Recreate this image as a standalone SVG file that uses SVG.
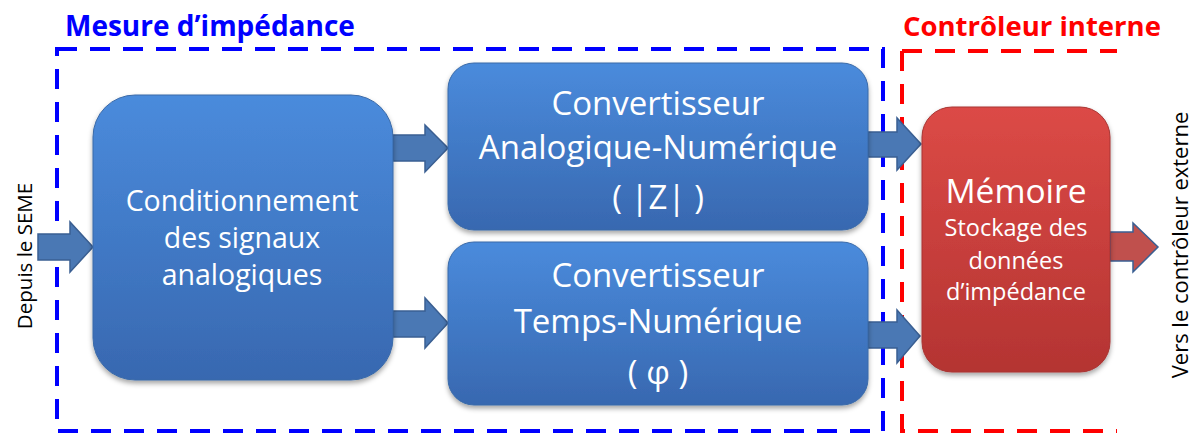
<svg xmlns="http://www.w3.org/2000/svg" width="1195" height="434" viewBox="0 0 1195 434">
<style>
.lbl{font-family:"Open Sans","Noto Sans","Liberation Sans",sans-serif;fill:#fff;text-anchor:middle}
.side{font-family:"Open Sans","Noto Sans","Liberation Sans",sans-serif;fill:#000;text-anchor:middle}
.title{font-family:"Open Sans","Noto Sans","Liberation Sans",sans-serif;font-weight:bold}
.arrow{fill:#4a78b4;stroke:#3a5f92;stroke-width:1.5}
.dashb{fill:none;stroke:#0000ff;stroke-width:4;stroke-dasharray:20 13}
.dashr{fill:none;stroke:#ff0000;stroke-width:4;stroke-dasharray:20 13}
</style>
<defs>
<linearGradient id="gb" x1="0" y1="0" x2="0" y2="1"><stop offset="0" stop-color="#4a8bdc"/><stop offset="1" stop-color="#3868b0"/></linearGradient>
<linearGradient id="gr" x1="0" y1="0" x2="0" y2="1"><stop offset="0" stop-color="#dc4a46"/><stop offset="1" stop-color="#b43432"/></linearGradient>
<filter id="sh" x="-10%" y="-10%" width="120%" height="125%"><feDropShadow dx="0" dy="3" stdDeviation="2.5" flood-color="#000" flood-opacity="0.35"/></filter>
</defs>
<g id="zones">
<text class="title" x="65" y="36" font-size="28" fill="#0000ff">Mesure d’impédance</text>
<path class="dashb" d="M57 49 H883 V431 H57 Z"/>
<text class="title" x="903" y="36" font-size="27.5" fill="#ff0000">Contrôleur interne</text>
<path class="dashr" d="M902 51 H1117 M902 51 V431 H1117"/>
</g>
<g id="connectors">
<path class="arrow" d="M38 234 H70 V222 L93 247 L70 272 V260 H38 Z"/>
<path class="arrow" d="M393 135 H425 V125 L448 148 L425 172 V161 H393 Z"/>
<path class="arrow" d="M393 311 H425 V298 L448 323 L425 348 V337 H393 Z"/>
<path class="arrow" d="M868 132 H897 V118 L921 144 L897 170 V157 H868 Z"/>
<path class="arrow" d="M868 322 H897 V310 L920 336 L897 363 V348 H868 Z"/>
<path class="arrow" style="fill:#c0504d" d="M1110 232 H1133 V223 L1158 247 L1133 272 V261 H1110 Z"/>
</g>
<g id="cond">
<rect x="93" y="95" width="300" height="285" rx="42" fill="url(#gb)" stroke="#3a6aa8" filter="url(#sh)"/>
<text class="lbl" font-size="28.5"><tspan x="242" y="211">Conditionnement</tspan><tspan x="242" y="248">des signaux</tspan><tspan x="242" y="285">analogiques</tspan></text>
</g>
<g id="can">
<rect x="448" y="63" width="420" height="167" rx="26" fill="url(#gb)" stroke="#3a6aa8" filter="url(#sh)"/>
<text class="lbl" font-size="33"><tspan x="658" y="115">Convertisseur</tspan><tspan x="658" y="159">Analogique-Numérique</tspan><tspan x="658" y="209">( |Z| )</tspan></text>
</g>
<g id="ctn">
<rect x="448" y="242" width="420" height="163" rx="26" fill="url(#gb)" stroke="#3a6aa8" filter="url(#sh)"/>
<text class="lbl" font-size="33"><tspan x="658" y="287">Convertisseur</tspan><tspan x="658" y="333">Temps-Numérique</tspan><tspan x="658" y="384">( φ )</tspan></text>
</g>
<g id="mem">
<rect x="922" y="107" width="188" height="265" rx="30" fill="url(#gr)" stroke="#a83432" filter="url(#sh)"/>
<text class="lbl"><tspan x="1016" y="203" font-size="33.5">Mémoire</tspan><tspan x="1016" y="236" font-size="23.5">Stockage des</tspan><tspan x="1016" y="269" font-size="23.5">données</tspan><tspan x="1016" y="300" font-size="23.5">d’impédance</tspan></text>
</g>
<g id="labels">
<text class="side" font-size="20.5" transform="translate(32 256) rotate(-90)">Depuis le SEME</text>
<text class="side" font-size="22" transform="translate(1188 245) rotate(-90)">Vers le contrôleur externe</text>
</g>
</svg>
